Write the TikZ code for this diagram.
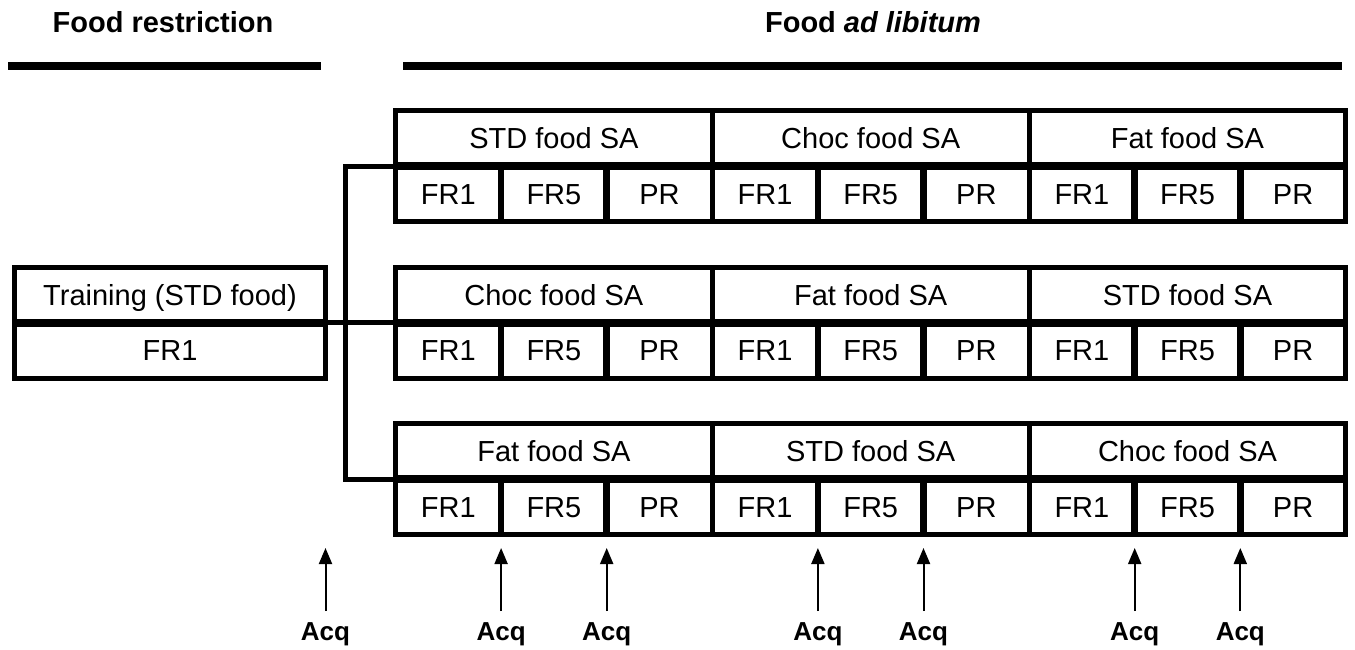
\documentclass[tikz,border=0pt]{standalone}
\usepackage{fontspec}
\setmainfont{Liberation Sans}
\usetikzlibrary{arrows.meta}
\begin{document}
\begin{tikzpicture}[x=1pt,y=-1pt,
  cell/.style={draw, line width=5pt, inner sep=0pt, outer sep=0pt, anchor=north west,
    minimum height=55.5pt, text height=20.8pt, text depth=0pt,
    font=\fontsize{29}{34}\selectfont},
  hdr/.style={cell, minimum width=316.8pt},
  subcell/.style={cell, minimum width=105.6pt},
  title/.style={font=\fontsize{29}{34}\selectfont\bfseries, anchor=base, inner sep=0pt},
  bar/.style={line width=8pt},
  mid/.style={line width=8pt},
  divider/.style={line width=6.5pt},
  link/.style={line width=5pt, line join=miter},
  acq/.style={font=\fontsize{26}{30}\selectfont\bfseries, anchor=base, inner sep=0pt,
    text height=18.6pt, text depth=5pt},
  arr/.style={line width=2pt, -{Triangle[width=13pt,length=16pt]}}
]
\useasboundingbox (0,0) rectangle (1355,649);

% titles and bars
\node[title] (ttl1) at (163,32) {Food restriction};
\node[title] (ttl2) at (873,32) {Food \textit{ad libitum}};
\draw[bar] (8,66) -- (321,66);
\draw[bar] (403,65.5) -- (1342,65.5);

% training box
\node[cell, minimum width=311pt] (trh) at (14.5,267) {Training (STD food)};
\node[cell, minimum width=311pt] (trs) at (14.5,322.5) {FR1};
\draw[mid] (trh.south west) -- (trh.south east);

% rows
\foreach \r/\ty/\a/\b/\c in {1/110.5/STD/Choc/Fat, 2/267/Choc/Fat/STD, 3/423.5/Fat/STD/Choc}{
  \node[hdr] (r\r h1) at (395.5,\ty) {\a\ food SA};
  \node[hdr] (r\r h2) at (712.3,\ty) {\b\ food SA};
  \node[hdr] (r\r h3) at (1029.1,\ty) {\c\ food SA};
  \foreach \g/\gx in {1/395.5, 2/712.3, 3/1029.1}{
    \node[subcell] (r\r s\g a) at (\gx,\ty+55.5) {FR1};
    \node[subcell] (r\r s\g b) at (\gx+105.6,\ty+55.5) {FR5};
    \node[subcell] (r\r s\g c) at (\gx+211.2,\ty+55.5) {PR};
    \draw[divider] (r\r s\g a.north east) -- (r\r s\g a.south east);
    \draw[divider] (r\r s\g b.north east) -- (r\r s\g b.south east);
  }
  \draw[mid] (r\r h1.south west) -- (r\r h3.south east);
}

% connectors
\coordinate (vt) at (345.5,166);
\coordinate (vb) at (345.5,479);
\draw[link] (r1h1.south west) -- (vt) -- (vb) -- (r3h1.south west);
\draw[link] (trh.south east) -- (r2h1.south west);

% acquisition arrows
\foreach \i/\x in {1/325.5, 2/501.1, 3/606.7, 4/817.9, 5/923.5, 6/1134.7, 7/1240.3}{
  \node[acq] (acq\i) at (\x,640) {Acq};
  \coordinate (tip\i) at (\x,548);
  \draw[arr] ([yshift=10pt]acq\i.north) -- (tip\i);
}
\end{tikzpicture}
\end{document}
